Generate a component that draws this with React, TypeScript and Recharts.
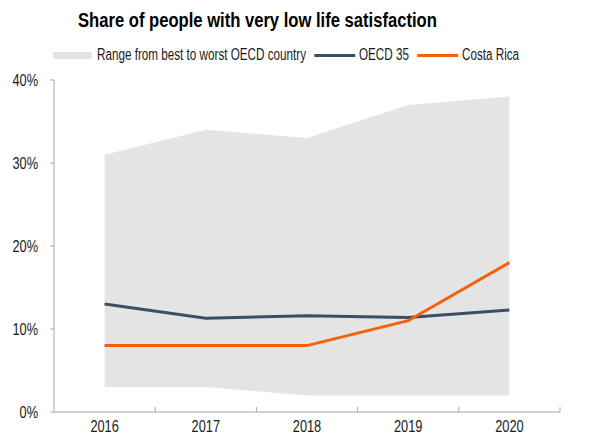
import React from 'react';
import { ComposedChart, Area, Line, XAxis, YAxis } from 'recharts';

// values (%)
const years = [2016, 2017, 2018, 2019, 2020];
const rangeLow = [3, 3, 2, 2, 2];
const rangeHigh = [31, 34, 33, 37, 38];
const oecd35 = [13, 11.3, 11.6, 11.4, 12.3];
const costaRica = [8, 8, 8, 11, 18];
const yTicks = [0, 10, 20, 30, 40];

const TITLE = 'Share of people with very low life satisfaction';
// no narrow font installed, so Liberation Sans gets squeezed horizontally
const FONT = '"Liberation Sans", Arial, sans-serif';
const TICK_SQUEEZE = 0.8;
const LEGEND_SQUEEZE = 0.73;
const TITLE_SQUEEZE = 0.83;

const COLORS = {
  range: '#e4e4e4',
  oecd: '#3b4e66',
  costa: '#f45f0c',
  axis: '#a6a6a6',
  text: '#1a1a1a'
};

const legendItems = [
  { label: 'Range from best to worst OECD country', color: COLORS.range, kind: 'box' },
  { label: 'OECD 35', color: COLORS.oecd, kind: 'line' },
  { label: 'Costa Rica', color: COLORS.costa, kind: 'line' }
];

const data = years.map((year, i) => ({
  year,
  range: [rangeLow[i], rangeHigh[i]],
  oecd: oecd35[i],
  costa: costaRica[i]
}));

// labels at the year, small tick marks at the band boundaries (year + 0.5)
const xTicks = years.flatMap((y) => [y, y + 0.5]);

const XTick = ({ x, y, payload }: any) => {
  const v = payload.value;
  if (Number.isInteger(v)) {
    return (
      <text
        transform={`translate(${x},${y + 20}) scale(${TICK_SQUEEZE},1)`}
        textAnchor="middle"
        fontSize={16}
        fill={COLORS.text}
        fontFamily={FONT}
      >
        {v}
      </text>
    );
  }
  return <line x1={x} x2={x} y1={y - 5} y2={y} stroke={COLORS.axis} strokeWidth={1} />;
};

const YTick = ({ x, y, payload }: any) => (
  <text
    transform={`translate(${x},${y + 6}) scale(${TICK_SQUEEZE},1)`}
    textAnchor="end"
    fontSize={16}
    fill={COLORS.text}
    fontFamily={FONT}
  >
    {`${payload.value}%`}
  </text>
);

function Legend() {
  const s = LEGEND_SQUEEZE;
  return (
    <div
      style={{
        position: 'absolute',
        left: 53,
        top: 46,
        display: 'flex',
        alignItems: 'center',
        fontFamily: FONT,
        fontSize: 16,
        color: COLORS.text,
        whiteSpace: 'nowrap',
        transform: `scaleX(${s})`,
        transformOrigin: 'left center'
      }}
    >
      {legendItems.map((item) => (
        <div key={item.label} style={{ display: 'flex', alignItems: 'center', marginRight: 8 / s }}>
          <div
            style={{
              width: (item.kind === 'box' ? 39 : 41) / s,
              height: item.kind === 'box' ? 7 : 3,
              background: item.color,
              marginRight: (item.kind === 'box' ? 5 : 4) / s
            }}
          />
          <span>{item.label}</span>
        </div>
      ))}
    </div>
  );
}

export default function App() {
  return (
    <div style={{ position: 'absolute', left: 0, top: 0, width: 605, height: 436, background: '#fff' }}>
      <div
        style={{
          position: 'absolute',
          left: 78,
          top: 9,
          fontFamily: FONT,
          fontWeight: 'bold',
          fontSize: 20,
          color: '#000',
          whiteSpace: 'nowrap',
          transform: `scaleX(${TITLE_SQUEEZE})`,
          transformOrigin: 'left center'
        }}
      >
        {TITLE}
      </div>
      <Legend />
      <ComposedChart width={605} height={436} data={data} margin={{ top: 80, right: 45, bottom: 0, left: 8 }}>
        <XAxis
          dataKey="year"
          type="number"
          domain={[2015.5, 2020.5]}
          ticks={xTicks}
          interval={0}
          tick={<XTick />}
          tickLine={false}
          tickSize={0}
          tickMargin={0}
          height={24}
          stroke={COLORS.axis}
        />
        <YAxis
          domain={[0, 40]}
          ticks={yTicks}
          interval={0}
          width={46}
          tick={<YTick />}
          tickSize={4}
          tickMargin={12}
          stroke={COLORS.axis}
        />
        <Area dataKey="range" type="linear" stroke="none" fill={COLORS.range} fillOpacity={1} isAnimationActive={false} />
        <Line dataKey="oecd" type="linear" stroke={COLORS.oecd} strokeWidth={3} dot={false} isAnimationActive={false} />
        <Line dataKey="costa" type="linear" stroke={COLORS.costa} strokeWidth={3} dot={false} isAnimationActive={false} />
      </ComposedChart>
    </div>
  );
}
